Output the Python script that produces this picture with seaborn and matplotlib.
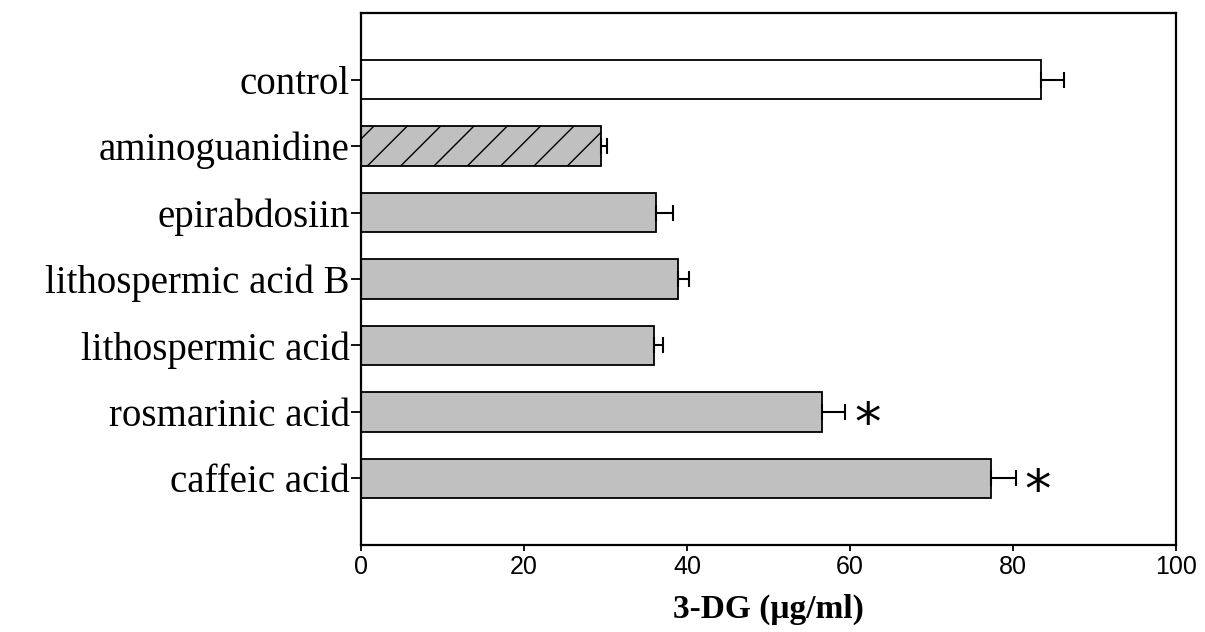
import matplotlib
matplotlib.use("Agg")
import matplotlib.pyplot as plt
import seaborn as sns
import pandas as pd
import numpy as np

categories = ["control", "aminoguanidine", "epirabdosiin", "lithospermic acid B",
              "lithospermic acid", "rosmarinic acid", "caffeic acid"]
values = [83.4, 29.45, 36.2, 38.9, 35.9, 56.6, 77.3]
errors = [2.8, 0.75, 2.1, 1.3, 1.1, 2.8, 3.0]
significance = ["", "", "", "", "", "*", "*"]
x_ticks = [0, 20, 40, 60, 80, 100]
x_label = "3-DG (μg/ml)"

sns.set_theme(style="white")
plt.rcParams["font.family"] = ["Liberation Serif", "DejaVu Serif"]
plt.rcParams["hatch.linewidth"] = 1.0
for key in ["text.color", "axes.labelcolor", "xtick.color", "ytick.color", "hatch.color"]:
    plt.rcParams[key] = "black"

df = pd.DataFrame({"cat": categories, "val": values})
colors = ["#ffffff"] + ["#c0c0c0"] * 6

fig = plt.figure(figsize=(12.05, 6.32), dpi=100)
ax = fig.add_axes([0.2996, 0.1377, 0.6764, 0.8417])

sns.barplot(data=df, y="cat", x="val", hue="cat", palette=colors, legend=False,
            orient="h", width=0.6, edgecolor="black", linewidth=1.3, ax=ax,
            saturation=1)
ax.patches[1].set_hatch("/")

ypos = np.arange(len(categories))
ax.errorbar(values, ypos, xerr=[np.zeros(len(values)), errors], fmt="none",
            ecolor="black", elinewidth=1.5, capsize=5.5, capthick=1.5, zorder=5)

for i, s in enumerate(significance):
    if s:
        ax.text(values[i] + errors[i] + 2.7, i + 0.2, s, ha="center", va="center",
                fontsize=38, family=["DejaVu Sans"], color="black")

ax.set_xlim(0, 100)
ax.set_ylim(7.0, -1.0)
ax.set_xticks(x_ticks)
ax.set_xticklabels([str(t) for t in x_ticks], family=["Liberation Sans"], fontsize=18)
ax.set_yticks(ypos)
ax.set_yticklabels(categories, fontsize=28)
ax.set_ylabel("")
ax.set_xlabel(x_label, fontsize=24, fontweight="bold", labelpad=10)
ax.tick_params(axis="x", direction="out", length=4.5, width=1.3, colors="black",
               bottom=True, pad=3)
ax.tick_params(axis="y", direction="out", length=7, width=1.3, colors="black",
               left=True, pad=1)
for sp in ax.spines.values():
    sp.set_visible(True)
    sp.set_color("black")
    sp.set_linewidth(1.6)

fig.savefig("out.png", dpi=100)
